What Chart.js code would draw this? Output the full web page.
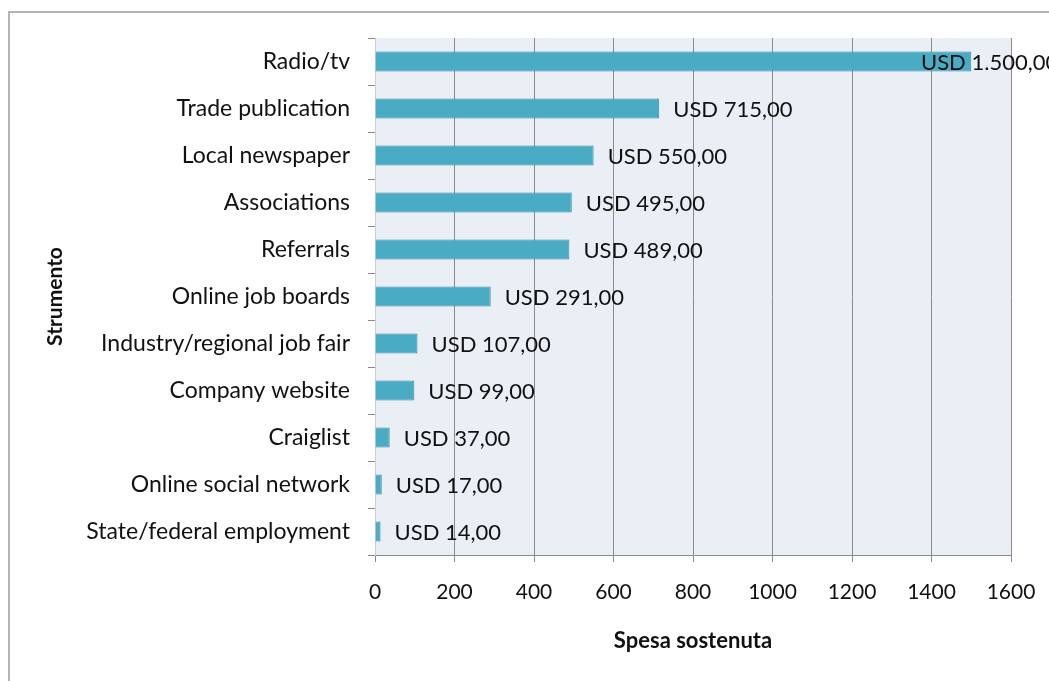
<!DOCTYPE html>
<html>
<head>
<meta charset="utf-8">
<script src="https://cdn.jsdelivr.net/npm/chart.js@4/dist/chart.umd.min.js"></script>
<style>
  html, body { margin: 0; padding: 0; background: #fff; }
  #wrap { width: 1049px; height: 681px; position: relative; }
</style>
</head>
<body>
<div id="wrap"><canvas id="chart"></canvas></div>
<script>
// Spending per recruiting channel (USD)
const categories = [
  'Radio/tv', 'Trade publication', 'Local newspaper', 'Associations', 'Referrals',
  'Online job boards', 'Industry/regional job fair', 'Company website', 'Craiglist',
  'Online social network', 'State/federal employment'
]
const spending = [1500, 715, 550, 495, 489, 291, 107, 99, 37, 17, 14]
const xTicks = [0, 200, 400, 600, 800, 1000, 1200, 1400, 1600]

const FONT = 'Lato, "Open Sans", sans-serif'
const TEXT = '#111111'
const GRID = '#8a8a8a'

// 1500 -> "1.500,00"
function fmtUSD(v) {
  const parts = v.toFixed(2).split('.')
  const whole = parts[0].replace(/\B(?=(\d{3})+(?!\d))/g, '.')
  return 'USD ' + whole + ',' + parts[1]
}

// frame + plot background
const framePlugin = {
  id: 'frame',
  beforeDraw(chart) {
    const { ctx, chartArea: a } = chart
    ctx.save()
    ctx.fillStyle = '#e9eff4'
    ctx.fillRect(a.left, a.top, a.right - a.left, a.bottom - a.top)
    ctx.strokeStyle = '#b4b4b4'
    ctx.lineWidth = 2
    ctx.beginPath()
    ctx.moveTo(9, chart.height)
    ctx.lineTo(9, 12)
    ctx.lineTo(chart.width, 12)
    ctx.stroke()
    ctx.restore()
  }
}

// value labels at the bar ends
const valueLabels = {
  id: 'valueLabels',
  afterDatasetsDraw(chart) {
    const { ctx, chartArea: a } = chart
    const meta = chart.getDatasetMeta(0)
    ctx.save()
    ctx.font = '22px ' + FONT
    ctx.fillStyle = TEXT
    ctx.textBaseline = 'middle'
    ctx.textAlign = 'left'
    meta.data.forEach((bar, i) => {
      const x = Math.min(bar.x + 14, a.right - 90)
      ctx.fillText(fmtUSD(spending[i]), x, bar.y + 1)
    })
    ctx.restore()
  }
}

new Chart(document.getElementById('chart'), {
  type: 'bar',
  data: {
    labels: categories,
    datasets: [{
      data: spending,
      backgroundColor: '#4aabc5',
      borderColor: '#3a8ba3',
      borderWidth: 1,
      barPercentage: 0.43,
      categoryPercentage: 1
    }]
  },
  options: {
    indexAxis: 'y',
    responsive: true,
    maintainAspectRatio: false,
    animation: false,
    layout: { padding: { top: 38, right: 38, left: 0, bottom: 0 } },
    plugins: {
      legend: { display: false },
      tooltip: { enabled: false }
    },
    scales: {
      x: {
        min: 0,
        max: 1600,
        afterBuildTicks(scale) {
          scale.ticks = xTicks.map(v => ({ value: v }))
        },
        afterFit(scale) {
          scale.height = 126
          scale.paddingRight = 0
        },
        grid: {
          color: ctx => ctx.index === 0 ? '#c9cfd4' : GRID,
          tickColor: GRID,
          tickLength: 7,
          lineWidth: 1
        },
        border: { color: GRID },
        ticks: {
          color: TEXT,
          font: { family: FONT, size: 21 },
          padding: 18,
          maxRotation: 0,
          callback: v => String(v)
        },
        title: {
          display: true,
          text: 'Spesa sostenuta',
          color: TEXT,
          font: { family: FONT, size: 22, weight: 'bold' },
          padding: { top: 0, bottom: 27 }
        }
      },
      y: {
        afterFit(scale) { scale.width = 375 },
        grid: {
          drawOnChartArea: false,
          offset: true,
          color: GRID,
          tickLength: 7
        },
        border: { color: '#c9cfd4' },
        ticks: {
          color: TEXT,
          font: { family: FONT, size: 23 },
          padding: 18,
          autoSkip: false
        },
        title: {
          display: true,
          text: 'Strumento',
          color: TEXT,
          font: { family: FONT, size: 21, weight: 'bold' },
          padding: { top: 43, bottom: 0 }
        }
      }
    }
  },
  plugins: [framePlugin, valueLabels]
})
</script>
</body>
</html>
